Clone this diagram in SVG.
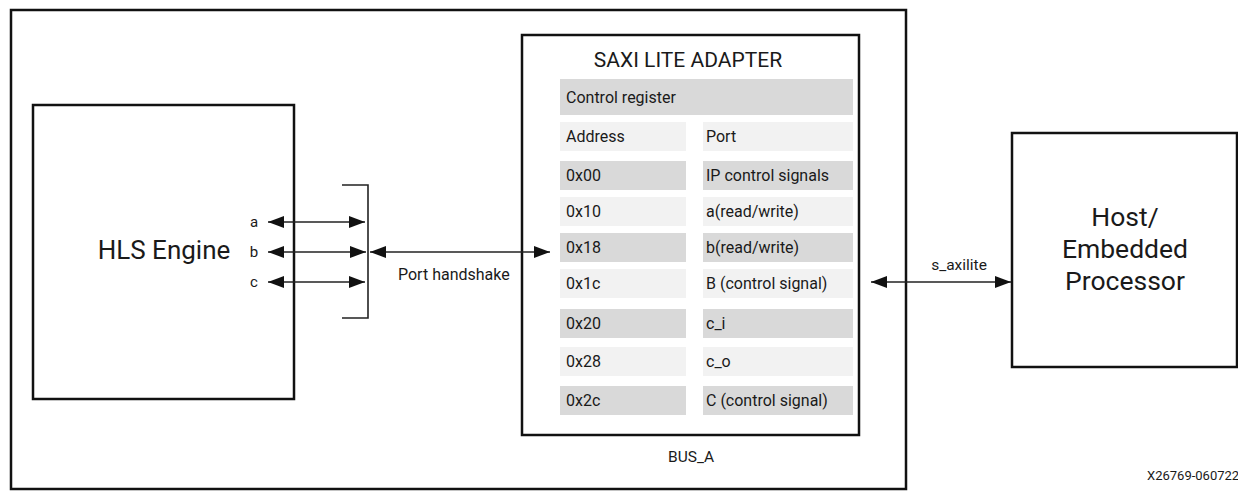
<svg xmlns="http://www.w3.org/2000/svg" width="1238" height="491" viewBox="0 0 1238 491">
<style>
text{font-family:Roboto,"Liberation Sans",sans-serif;fill:#1a1a1a}
.box{fill:#fff;stroke:#111;stroke-width:2.5}
.dk{fill:#d9d9d9}
.lt{fill:#f2f2f2}
.rt{font-size:16px}
.ln{stroke:#222;stroke-width:1.6;fill:none}
</style>
<defs>
<marker id="ah" viewBox="0 0 16 12" refX="16" refY="6" markerWidth="16" markerHeight="12" markerUnits="userSpaceOnUse" orient="auto-start-reverse">
<path d="M0,0 L16,6 L0,12 Z" fill="#111"/>
</marker>
</defs>
<g id="outer">
<rect class="box" x="11" y="10" width="895" height="479" stroke-width="2"/>
<text x="691" y="462" font-size="15.5" text-anchor="middle">BUS_A</text>
</g>
<g id="hls">
<rect class="box" x="33" y="105" width="261" height="294"/>
<text x="164" y="259" font-size="26" text-anchor="middle">HLS Engine</text>
<text x="254" y="227" font-size="15" text-anchor="middle">a</text>
<text x="254" y="257" font-size="15" text-anchor="middle">b</text>
<text x="254" y="287" font-size="15" text-anchor="middle">c</text>
</g>
<g id="saxi">
<rect class="box" x="522" y="35" width="337" height="400"/>
<text x="688" y="67" font-size="21" text-anchor="middle">SAXI LITE ADAPTER</text>
<rect class="dk" x="560" y="79" width="293" height="36"/>
<text class="rt" x="566" y="103">Control register</text>
<rect class="lt" x="560" y="122" width="126" height="29"/><rect class="lt" x="703" y="122" width="150" height="29"/>
<text class="rt" x="566" y="142">Address</text><text class="rt" x="706" y="142">Port</text>
<rect class="dk" x="560" y="161" width="126" height="29"/><rect class="dk" x="703" y="161" width="150" height="29"/>
<text class="rt" x="566" y="181">0x00</text><text class="rt" x="706" y="181">IP control signals</text>
<rect class="lt" x="560" y="197" width="126" height="29"/><rect class="lt" x="703" y="197" width="150" height="29"/>
<text class="rt" x="566" y="217">0x10</text><text class="rt" x="706" y="217">a(read/write)</text>
<rect class="dk" x="560" y="233" width="126" height="29"/><rect class="dk" x="703" y="233" width="150" height="29"/>
<text class="rt" x="566" y="253">0x18</text><text class="rt" x="706" y="253">b(read/write)</text>
<rect class="lt" x="560" y="269" width="126" height="29"/><rect class="lt" x="703" y="269" width="150" height="29"/>
<text class="rt" x="566" y="289">0x1c</text><text class="rt" x="706" y="289">B (control signal)</text>
<rect class="dk" x="560" y="309" width="126" height="29"/><rect class="dk" x="703" y="309" width="150" height="29"/>
<text class="rt" x="566" y="329">0x20</text><text class="rt" x="706" y="329">c_i</text>
<rect class="lt" x="560" y="347" width="126" height="29"/><rect class="lt" x="703" y="347" width="150" height="29"/>
<text class="rt" x="566" y="367">0x28</text><text class="rt" x="706" y="367">c_o</text>
<rect class="dk" x="560" y="386" width="126" height="29"/><rect class="dk" x="703" y="386" width="150" height="29"/>
<text class="rt" x="566" y="406">0x2c</text><text class="rt" x="706" y="406">C (control signal)</text>
</g>
<g id="host">
<rect class="box" x="1012" y="133" width="225" height="234"/>
<text x="1125" y="226" font-size="26.5" text-anchor="middle">Host/</text>
<text x="1125" y="258" font-size="26.5" text-anchor="middle">Embedded</text>
<text x="1125" y="290" font-size="26.5" text-anchor="middle">Processor</text>
</g>
<g id="connectors">
<line class="ln" x1="268" y1="222" x2="365" y2="222" marker-start="url(#ah)" marker-end="url(#ah)"/>
<line class="ln" x1="268" y1="252" x2="366" y2="252" marker-start="url(#ah)" marker-end="url(#ah)"/>
<line class="ln" x1="268" y1="282" x2="365" y2="282" marker-start="url(#ah)" marker-end="url(#ah)"/>
<polyline class="ln" points="342,185 368,185 368,318 342,318"/>
<line class="ln" x1="370" y1="252" x2="550" y2="252" marker-start="url(#ah)" marker-end="url(#ah)"/>
<text x="398" y="280" font-size="16">Port handshake</text>
<line class="ln" x1="871" y1="282" x2="1011" y2="282" marker-start="url(#ah)" marker-end="url(#ah)"/>
<text x="959" y="270" font-size="15.5" text-anchor="middle">s_axilite</text>
</g>
<text x="1147" y="480" font-size="13">X26769-060722</text>
</svg>
